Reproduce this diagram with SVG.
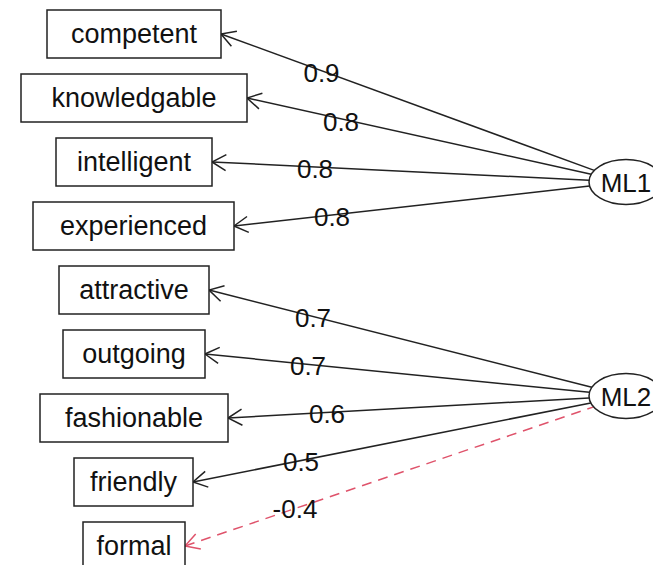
<svg xmlns="http://www.w3.org/2000/svg" width="653" height="565" viewBox="0 0 653 565">
<style>
.box{fill:#fff;stroke:#222;stroke-width:1.5}
.lat{fill:#fff;stroke:#222;stroke-width:1.5}
.nt{font-family:"Liberation Sans",Arial,sans-serif;font-size:27px;fill:#111;text-anchor:middle}
.lt{font-family:"Liberation Sans",Arial,sans-serif;font-size:26px;fill:#111;text-anchor:middle}
.edge{fill:none;stroke:#222;stroke-width:1.5}
.neg{fill:none;stroke:#DF536B;stroke-width:1.5;stroke-dasharray:10,7}
</style>
<defs>
<marker id="ah" markerUnits="userSpaceOnUse" markerWidth="20" markerHeight="20" refX="0" refY="10" viewBox="0 0 20 20" orient="auto" overflow="visible">
<path d="M14,2 L0,10 L14,18" fill="none" stroke="#222" stroke-width="1.5"/>
</marker>
<marker id="ahr" markerUnits="userSpaceOnUse" markerWidth="20" markerHeight="20" refX="0" refY="10" viewBox="0 0 20 20" orient="auto" overflow="visible">
<path d="M14,2 L0,10 L14,18" fill="none" stroke="#DF536B" stroke-width="1.5"/>
</marker>
</defs>
<g id="connectors">
<line class="edge" x1="221" y1="34" x2="594.3" y2="170.4" marker-start="url(#ah)"/>
<line class="edge" x1="247" y1="98" x2="591.2" y2="174.3" marker-start="url(#ah)"/>
<line class="edge" x1="212" y1="162" x2="589.1" y2="180.2" marker-start="url(#ah)"/>
<line class="edge" x1="234" y1="226" x2="589.6" y2="186.1" marker-start="url(#ah)"/>
<line class="edge" x1="209" y1="290" x2="591.8" y2="387.3" marker-start="url(#ah)"/>
<line class="edge" x1="205" y1="354" x2="589.5" y2="392.3" marker-start="url(#ah)"/>
<line class="edge" x1="228" y1="418" x2="589.1" y2="397.9" marker-start="url(#ah)"/>
<line class="edge" x1="193" y1="482" x2="590.8" y2="402.9" marker-start="url(#ah)"/>
<line class="neg" x1="185" y1="546" x2="593.7" y2="406.9" marker-start="url(#ahr)"/>
<text class="lt" x="321.5" y="82">0.9</text>
<text class="lt" x="341" y="131">0.8</text>
<text class="lt" x="315" y="178">0.8</text>
<text class="lt" x="332" y="226">0.8</text>
<text class="lt" x="313" y="327">0.7</text>
<text class="lt" x="308" y="375">0.7</text>
<text class="lt" x="327" y="423">0.6</text>
<text class="lt" x="301" y="471">0.5</text>
<text class="lt" x="295" y="518">-0.4</text>
</g>
<g id="competent"><rect class="box" x="47" y="10" width="174" height="48"/><text class="nt" x="134" y="43">competent</text></g>
<g id="knowledgable"><rect class="box" x="21" y="74" width="226" height="48"/><text class="nt" x="134" y="107">knowledgable</text></g>
<g id="intelligent"><rect class="box" x="56" y="138" width="156" height="48"/><text class="nt" x="134" y="171">intelligent</text></g>
<g id="experienced"><rect class="box" x="33" y="202" width="201" height="48"/><text class="nt" x="133.5" y="235">experienced</text></g>
<g id="attractive"><rect class="box" x="59" y="266" width="150" height="48"/><text class="nt" x="134" y="299">attractive</text></g>
<g id="outgoing"><rect class="box" x="63" y="330" width="142" height="48"/><text class="nt" x="134" y="363">outgoing</text></g>
<g id="fashionable"><rect class="box" x="40" y="394" width="188" height="48"/><text class="nt" x="134" y="427">fashionable</text></g>
<g id="friendly"><rect class="box" x="74" y="458" width="119" height="48"/><text class="nt" x="133.5" y="491">friendly</text></g>
<g id="formal"><rect class="box" x="83" y="522" width="102" height="48"/><text class="nt" x="134" y="555">formal</text></g>
<g id="ML1"><ellipse class="lat" cx="626" cy="182" rx="37" ry="22.5"/><text class="lt" x="626" y="192">ML1</text></g>
<g id="ML2"><ellipse class="lat" cx="626" cy="396" rx="37" ry="22.5"/><text class="lt" x="626" y="406">ML2</text></g>
</svg>
